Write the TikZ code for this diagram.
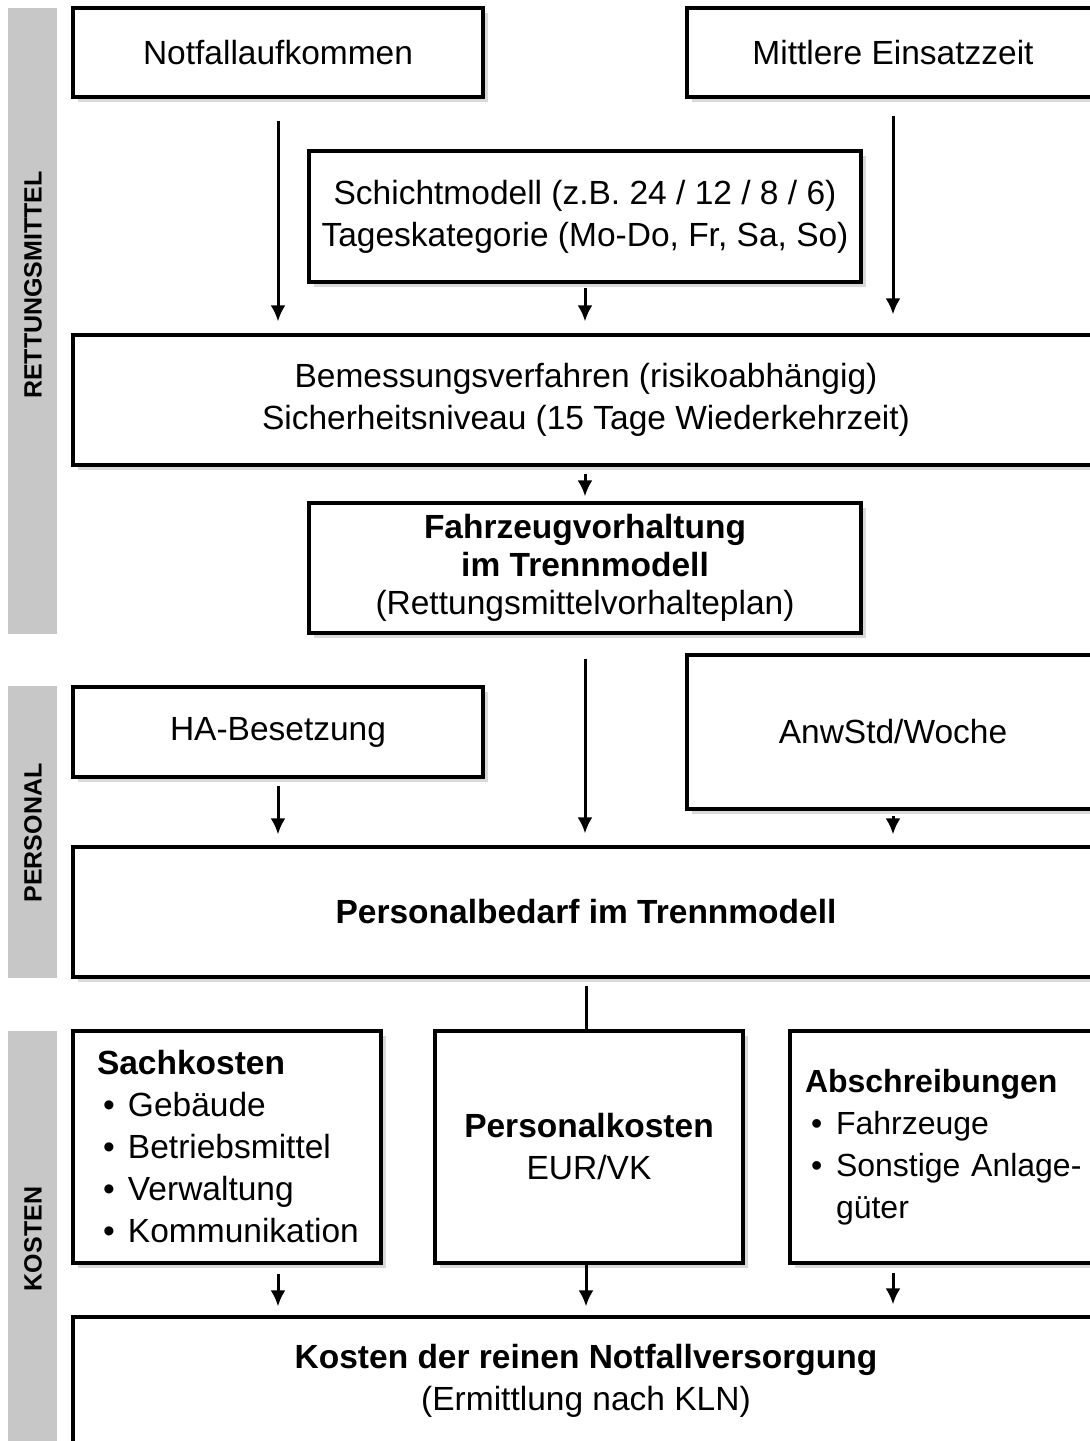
\documentclass[tikz,border=0pt]{standalone}
\usepackage{fontspec}
\setmainfont{Liberation Sans}
\usetikzlibrary{arrows.meta,shadows,calc}
\newcommand\mybul{\hspace*{6pt}\makebox[25pt][l]{•}}
\newcommand\mybulind{\hspace*{31pt}}
\begin{document}
\begin{tikzpicture}[x=1pt,y=-1pt,
  box/.style={draw, line width=3.2pt, fill=white, inner sep=0pt, align=center,
    font=\fontsize{33.5}{42}\selectfont,
    drop shadow={shadow xshift=5pt, shadow yshift=-5pt, fill=black!15, opacity=1}},
  arr/.style={-{Latex[length=16pt,width=15pt]}, line width=3pt},
  plain/.style={line width=3pt},
  side/.style={fill=black!22, draw=none},
  sidelabel/.style={rotate=90, font=\fontsize{25}{25}\selectfont\bfseries}]
\useasboundingbox (0,0) rectangle (1090,1441);
\clip (0,0) rectangle (1090,1441);
\fill[white] (0,0) rectangle (1090,1441);
% side bars
\fill[side] (8,8) rectangle (57,634);
\fill[side] (8,686) rectangle (57,978);
\fill[side] (8,1031) rectangle (57,1441);
\node[sidelabel] (lr) at (33,285) {RETTUNGSMITTEL};
\node[sidelabel] (lp) at (33,833) {PERSONAL};
\node[sidelabel] (lk) at (33,1239) {KOSTEN};
% boxes
\node[box, minimum width=410, minimum height=89] (notf) at (278,52.5) {Notfallaufkommen};
\node[box, minimum width=412, minimum height=89] (mittl) at (893,52.5) {Mittlere Einsatzzeit};
\node[box, minimum width=552, minimum height=131] (schicht) at (585,216.5)
  {Schichtmodell (z.B. 24 / 12 / 8 / 6)\\Tageskategorie (Mo-Do, Fr, Sa, So)};
\node[box, minimum width=1026, minimum height=130] (bem) at (586,400)
  {Bemessungsverfahren (risikoabhängig)\\Sicherheitsniveau (15 Tage Wiederkehrzeit)};
\node[box, minimum width=552, minimum height=130, font=\fontsize{33.5}{38}\selectfont] (fahr) at (585,568)
  {\textbf{Fahrzeugvorhaltung}\\\textbf{im Trennmodell}\\(Rettungsmittelvorhalteplan)};
\node[box, minimum width=410, minimum height=90] (ha) at (278,732) {HA-Besetzung};
\node[box, minimum width=412, minimum height=154] (anw) at (893,732) {AnwStd/Woche};
\node[box, minimum width=1026, minimum height=130] (pb) at (586,912) {\textbf{Personalbedarf im Trennmodell}};
\node[box, minimum height=232, text width=260, inner xsep=24, align=left] (sach) at (227,1147)
  {\textbf{Sachkosten}\\\mybul Gebäude\\\mybul Betriebsmittel\\\mybul Verwaltung\\\mybul Kommunikation};
\node[box, minimum width=308, minimum height=232] (pk) at (589,1147)
  {\textbf{Personalkosten}\\EUR/VK};
\node[box, minimum height=232, text width=293, inner xsep=15, align=left, font=\fontsize{32}{42}\selectfont] (ab) at (951.5,1147)
  {\mbox{\textbf{Abschreibungen}}\\\mbox{\mybul Fahrzeuge}\\\mbox{\mybul Sonstige Anlage-}\\\mbox{\mybulind güter}};
\node[box, minimum width=1026, minimum height=128] (kost) at (586,1381)
  {\textbf{Kosten der reinen Notfallversorgung}\\(Ermittlung nach KLN)};
% connectors
\draw[arr, shorten <=22pt, shorten >=12pt] (notf.south) -- (notf.south |- bem.north);
\draw[arr, shorten <=17pt, shorten >=19pt] (mittl.south) -- (mittl.south |- bem.north);
\draw[arr, shorten <=4pt, shorten >=12pt] (schicht.south) -- (schicht.south |- bem.north);
\draw[arr, shorten <=7pt, shorten >=5pt] (bem.south -| fahr.south) -- (fahr.north);
\draw[arr, shorten <=24pt, shorten >=12pt] (fahr.south) -- (fahr.south |- pb.north);
\draw[arr, shorten <=7pt, shorten >=11pt] (ha.south) -- (ha.south |- pb.north);
\draw[arr, shorten <=5pt, shorten >=11pt] (anw.south) -- (anw.south |- pb.north);
\draw[plain, shorten <=7pt] (pb.south) -- (pb.south |- pk.north);
\draw[arr, shorten <=9pt, shorten >=9pt] (sach.south -| notf.south) -- (kost.north -| notf.south);
\draw[arr, shorten >=9pt] (kost.north |- pk.south) -- (kost.north);
\draw[arr, shorten <=8pt, shorten >=11pt] (ab.south -| mittl.south) -- (kost.north -| mittl.south);
\end{tikzpicture}
\end{document}
